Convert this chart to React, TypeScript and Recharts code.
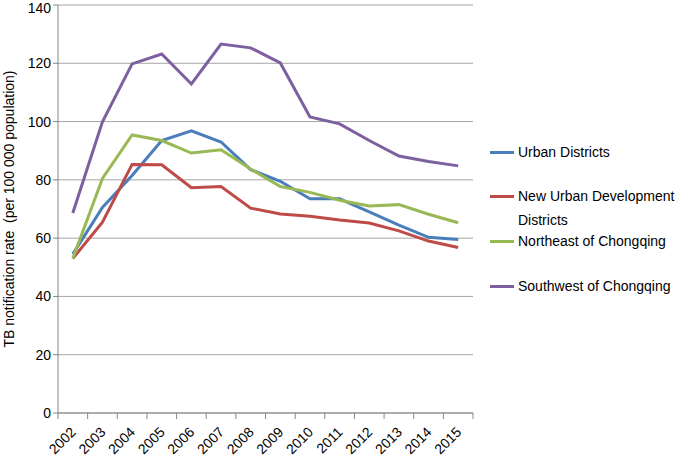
import { LineChart, Line, XAxis, YAxis, CartesianGrid } from 'recharts';

// ── Data ────────────────────────────────────────────────────────────────────
const YEARS = ['2002', '2003', '2004', '2005', '2006', '2007', '2008', '2009', '2010', '2011', '2012', '2013', '2014', '2015'];
const URBAN = [54.5, 70.5, 81.5, 93.5, 96.8, 93.0, 83.5, 79.5, 73.5, 73.5, 69.0, 64.5, 60.3, 59.5];
const NEW_URBAN = [53.0, 65.5, 85.3, 85.2, 77.3, 77.7, 70.3, 68.3, 67.5, 66.2, 65.2, 62.5, 59.0, 56.8];
const NORTHEAST = [53.0, 80.5, 95.4, 93.5, 89.2, 90.3, 83.7, 77.7, 75.7, 73.0, 71.0, 71.5, 68.2, 65.3];
const SOUTHWEST = [68.6, 99.9, 119.8, 123.2, 112.9, 126.6, 125.3, 120.1, 101.6, 99.2, 93.5, 88.2, 86.3, 84.8];
const Y_TICKS = [0, 20, 40, 60, 80, 100, 120, 140];

const DATA = YEARS.map((year, i) => ({
    year,
    urban: URBAN[i],
    newUrban: NEW_URBAN[i],
    northeast: NORTHEAST[i],
    southwest: SOUTHWEST[i],
}));

const SERIES = [
    { key: 'urban', name: 'Urban Districts', color: '#4a7ebb', top: 143 },
    { key: 'newUrban', name: 'New Urban Development Districts', color: '#be4b48', top: 187 },
    { key: 'northeast', name: 'Northeast of Chongqing', color: '#98b954', top: 232 },
    { key: 'southwest', name: 'Southwest of Chongqing', color: '#7d60a0', top: 277 },
];

const FONT = 'Liberation Sans, Arial, sans-serif';
const HALF_BAND = 14.8;

// ── Custom x tick: rotated label + boundary tick marks ───────────────────────
const YearTick = ({ x, y, payload }: any) => {
    const last = payload.index === YEARS.length - 1;
    return (
        <g>
            <line x1={x - HALF_BAND} y1={y - 8} x2={x - HALF_BAND} y2={y - 2} stroke="#868686" />
            {last && <line x1={x + HALF_BAND} y1={y - 8} x2={x + HALF_BAND} y2={y - 2} stroke="#868686" />}
            <text
                x={x + 4}
                y={y + 12}
                textAnchor="end"
                transform={`rotate(-45, ${x + 4}, ${y + 12})`}
                fontSize={14}
                fill="#000"
                fontFamily={FONT}
            >
                {payload.value}
            </text>
        </g>
    );
};

// ── Legend (Excel style, right side) ─────────────────────────────────────────
const LegendBox = () => (
    <div style={{ position: 'absolute', left: 490, top: 0, width: 185, fontFamily: FONT, fontSize: 14, color: '#000' }}>
        {SERIES.map((s) => (
            <div key={s.key} style={{ position: 'absolute', left: 0, top: s.top, display: 'flex', alignItems: 'flex-start' }}>
                <span style={{ display: 'inline-block', width: 24, borderTop: `3px solid ${s.color}`, marginTop: 8, marginRight: 4 }} />
                <span style={{ lineHeight: '24px', marginTop: -3, width: 158 }}>{s.name}</span>
            </div>
        ))}
    </div>
);

export default function App() {
    return (
        <div style={{ position: 'absolute', left: 0, top: 0, width: 675, height: 456, background: '#fff' }}>
            <LineChart width={675} height={456} data={DATA} margin={{ top: 5, right: 202, left: 0, bottom: 0 }}>
                <CartesianGrid stroke="#a6a6a6" vertical={false} />
                <XAxis
                    dataKey="year"
                    height={43}
                    padding={{ left: HALF_BAND, right: HALF_BAND }}
                    tick={<YearTick />}
                    tickLine={false}
                    axisLine={{ stroke: '#868686' }}
                    interval={0}
                />
                <YAxis
                    width={58}
                    domain={[0, 140]}
                    ticks={Y_TICKS}
                    tick={{ fontSize: 14, fill: '#000', fontFamily: FONT }}
                    tickLine={{ stroke: '#868686' }}
                    tickSize={5}
                    axisLine={{ stroke: '#868686' }}
                    label={{
                        value: 'TB notification rate\u00a0 (per 100 000 population)',
                        angle: -90,
                        position: 'insideLeft',
                        dx: 4,
                        style: { textAnchor: 'middle', fontSize: 14, fill: '#000', fontFamily: FONT },
                    }}
                />
                {SERIES.map((s) => (
                    <Line
                        key={s.key}
                        type="linear"
                        dataKey={s.key}
                        name={s.name}
                        stroke={s.color}
                        strokeWidth={3}
                        dot={false}
                        isAnimationActive={false}
                    />
                ))}
            </LineChart>
            <LegendBox />
        </div>
    );
}
